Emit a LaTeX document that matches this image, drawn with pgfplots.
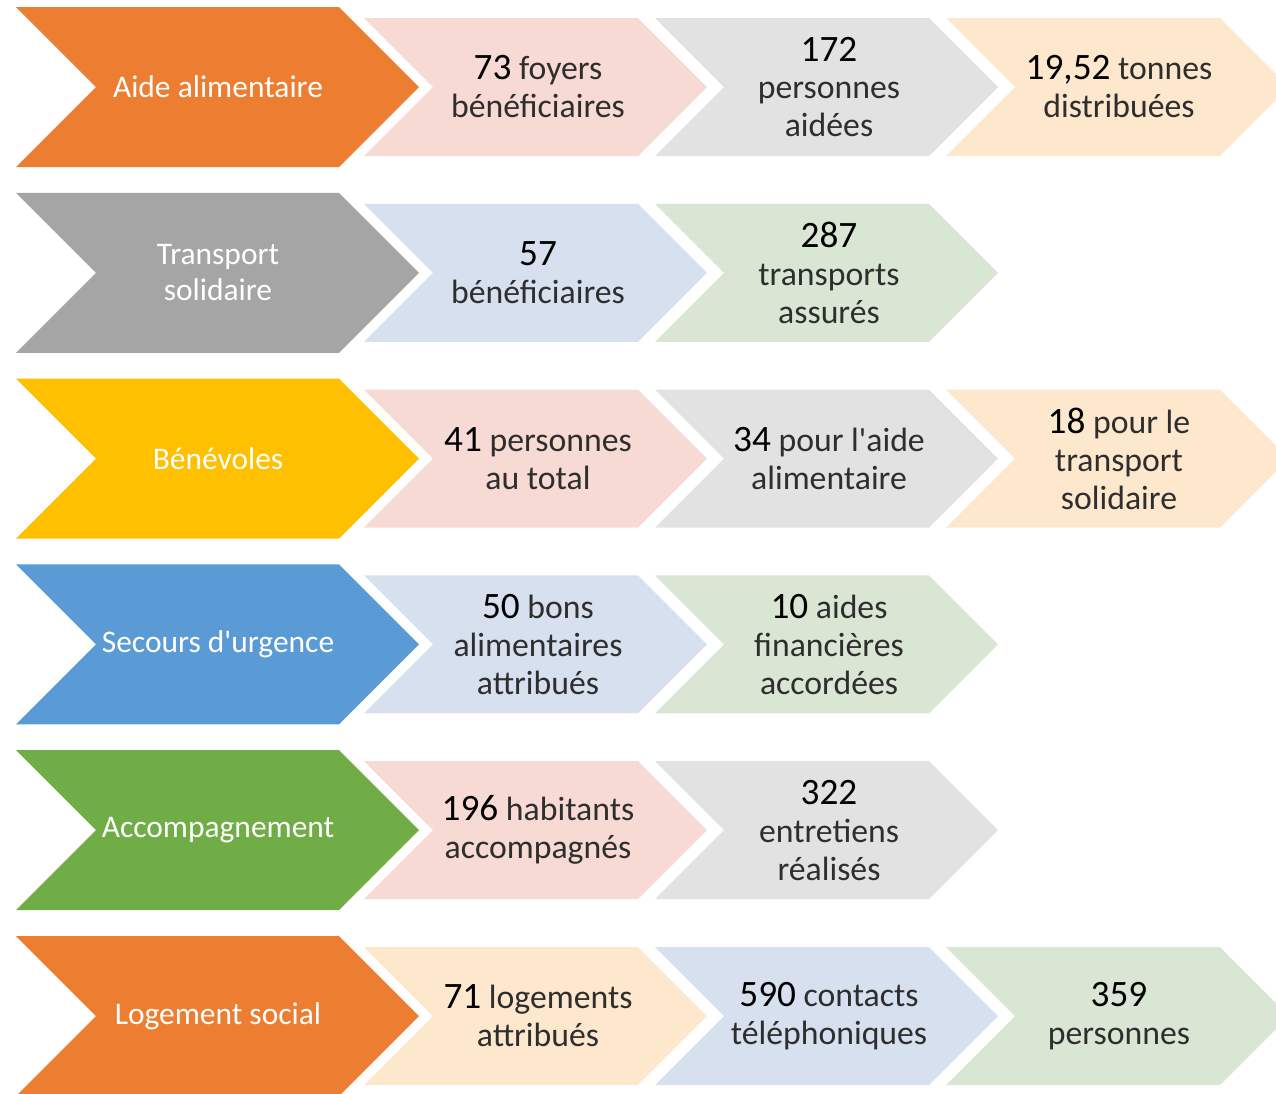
\documentclass[border=0pt]{standalone}
\usepackage{fontspec}
\setmainfont{Carlito}
\usepackage{pgfplots}
\pgfplotsset{compat=1.18}
\definecolor{corange}{HTML}{ED7D31}
\definecolor{cgray}{HTML}{A5A5A5}
\definecolor{cgold}{HTML}{FFC000}
\definecolor{cblue}{HTML}{5B9BD5}
\definecolor{cgreen}{HTML}{70AD47}
\definecolor{lpink}{HTML}{F7DAD3}
\definecolor{lgray}{HTML}{E2E2E2}
\definecolor{lpeach}{HTML}{FDE8CE}
\definecolor{lblue}{HTML}{D6E0EE}
\definecolor{lgreen}{HTML}{DAE6D4}
% chevron: color, x0, ycenter, half height (= notch depth), body width
\newcommand{\chev}[5]{%
 \pgfmathsetmacro\xa{#2}\pgfmathsetmacro\xn{#2+#4}\pgfmathsetmacro\xb{#2+#5}\pgfmathsetmacro\xt{#2+#5+#4}%
 \pgfmathsetmacro\yt{#3-#4}\pgfmathsetmacro\yb{#3+#4}%
 \edef\tmp{\noexpand\addplot[fill=#1,draw=none,forget plot] coordinates {(\xa,\yt) (\xb,\yt) (\xt,#3) (\xb,\yb) (\xa,\yb) (\xn,#3)} -- cycle;}\tmp}
\newcommand{\nb}[1]{{\fontsize{10.6}{10.8}\selectfont\color{black}#1}}
\newcommand{\ap}{\textquotesingle}
\tikzset{
  small/.style={align=center, text=black!82, font=\fontsize{9.6}{10.8}\selectfont},
  big/.style={align=center, text=white, font=\fontsize{8.95}{10.3}\selectfont},
}
\begin{document}
\begin{tikzpicture}
\begin{axis}[
  width=12.76cm, height=10.93cm, scale only axis,
  xmin=0, xmax=1276, ymin=0, ymax=1093, y dir=reverse,
  hide axis, clip=true,
]
% Row 1
\chev{corange}{16}{87}{80}{323}
\chev{lpink}{364}{87}{69}{274}
\chev{lgray}{655}{87}{69}{274}
\chev{lpeach}{946}{87}{69}{274}
% Row 2
\chev{cgray}{16}{272.8}{80}{323}
\chev{lblue}{364}{272.8}{69}{274}
\chev{lgreen}{655}{272.8}{69}{274}
% Row 3
\chev{cgold}{16}{458.6}{80}{323}
\chev{lpink}{364}{458.6}{69}{274}
\chev{lgray}{655}{458.6}{69}{274}
\chev{lpeach}{946}{458.6}{69}{274}
% Row 4
\chev{cblue}{16}{644.4}{80}{323}
\chev{lblue}{364}{644.4}{69}{274}
\chev{lgreen}{655}{644.4}{69}{274}
% Row 5
\chev{cgreen}{16}{830.2}{80}{323}
\chev{lpink}{364}{830.2}{69}{274}
\chev{lgray}{655}{830.2}{69}{274}
% Row 6
\chev{corange}{16}{1016}{80}{323}
\chev{lpeach}{364}{1016}{69}{274}
\chev{lblue}{655}{1016}{69}{274}
\chev{lgreen}{946}{1016}{69}{274}
% Labels
\node[big] at (axis cs:218,87) {Aide alimentaire};
\node[small] at (axis cs:538,87) {\nb{73} foyers\\bénéficiaires};
\node[small] at (axis cs:829,87) {\nb{172}\\personnes\\aidées};
\node[small] at (axis cs:1119,87) {\nb{19,52} tonnes\\distribuées};
\node[big] at (axis cs:218,272.8) {Transport\\solidaire};
\node[small] at (axis cs:538,272.8) {\nb{57}\\bénéficiaires};
\node[small] at (axis cs:829,272.8) {\nb{287}\\transports\\assurés};
\node[big] at (axis cs:218,458.6) {Bénévoles};
\node[small] at (axis cs:538,458.6) {\nb{41} personnes\\au total};
\node[small] at (axis cs:829,458.6) {\nb{34} pour l\ap aide\\alimentaire};
\node[small] at (axis cs:1119,458.6) {\nb{18} pour le\\transport\\solidaire};
\node[big] at (axis cs:218,644.4) {Secours d\ap urgence};
\node[small] at (axis cs:538,644.4) {\nb{50} bons\\alimentaires\\attribués};
\node[small] at (axis cs:829,644.4) {\nb{10} aides\\financières\\accordées};
\node[big] at (axis cs:218,830.2) {Accompagnement};
\node[small] at (axis cs:538,830.2) {\nb{196} habitants\\accompagnés};
\node[small] at (axis cs:829,830.2) {\nb{322}\\entretiens\\réalisés};
\node[big] at (axis cs:218,1016) {Logement social};
\node[small] at (axis cs:538,1016) {\nb{71} logements\\attribués};
\node[small] at (axis cs:829,1016) {\nb{590} contacts\\téléphoniques};
\node[small] at (axis cs:1119,1016) {\nb{359}\\personnes};
\end{axis}
\pgfresetboundingbox
\path (current axis.south west) rectangle (current axis.north east);
\end{tikzpicture}
\end{document}
